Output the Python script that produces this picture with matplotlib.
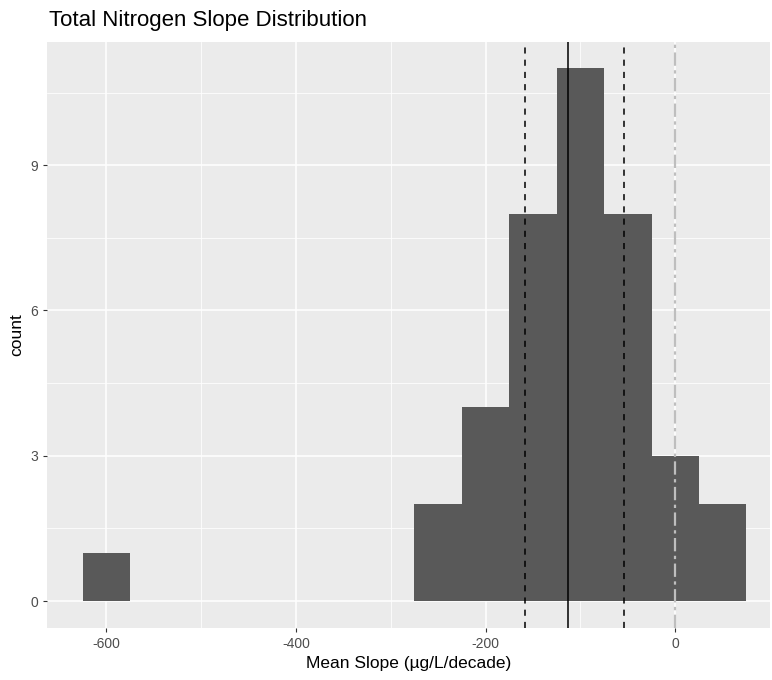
import matplotlib.pyplot as plt
import numpy as np

plt.rcParams['font.family'] = ['Liberation Sans', 'DejaVu Sans']
plt.rcParams['axes.unicode_minus'] = False

# histogram bins (binwidth 50) and counts
bin_centers = [-600, -250, -200, -150, -100, -50, 0, 50]
counts = [1, 2, 4, 8, 11, 8, 3, 2]
bin_width = 50

# summary lines
mean_slope = -113
ci_low, ci_high = -158, -54.5
zero_line = 0

x_ticks = [-600, -400, -200, 0]
y_ticks = [0, 3, 6, 9]


def main():
    fig = plt.figure(figsize=(7.72, 6.8), dpi=100)
    ax = fig.add_axes([0.0615, 0.0769, 0.936, 0.8618])
    ax.set_facecolor('#EBEBEB')

    # grid like theme_gray
    for v in [-500, -300, -100, 100]:
        ax.axvline(v, color='white', lw=0.55, zorder=0)
    for v in [1.5, 4.5, 7.5, 10.5]:
        ax.axhline(v, color='white', lw=0.55, zorder=0)
    for v in x_ticks:
        ax.axvline(v, color='white', lw=1.1, zorder=0)
    for v in y_ticks:
        ax.axhline(v, color='white', lw=1.1, zorder=0)

    ax.bar(bin_centers, counts, width=bin_width, color='#595959', zorder=2)

    ax.axvline(mean_slope, color='black', lw=1.1, zorder=3)
    ax.axvline(ci_low, color='black', lw=1.1, ls=(0, (4, 4)), zorder=3)
    ax.axvline(ci_high, color='black', lw=1.1, ls=(0, (4, 4)), zorder=3)
    ax.axvline(zero_line, color='#BEBEBE', lw=1.6, ls=(0, (6, 2, 1.5, 2)), zorder=3)

    ax.set_xlim(-662, 100)
    ax.set_ylim(-0.55, 11.55)
    ax.set_xticks(x_ticks)
    ax.set_yticks(y_ticks)
    ax.tick_params(colors='#333333', labelcolor='#4D4D4D', labelsize=10,
                   length=3, width=0.8)
    for s in ax.spines.values():
        s.set_visible(False)

    ax.set_xlabel('Mean Slope (µg/L/decade)', fontsize=12.5, labelpad=4)
    ax.set_ylabel('count', fontsize=12.5, labelpad=5)
    ax.set_title('Total Nitrogen Slope Distribution', fontsize=16, loc='left',
                 x=0.002, pad=11)

    fig.savefig('out.png', dpi=100)


if __name__ == '__main__':
    main()
